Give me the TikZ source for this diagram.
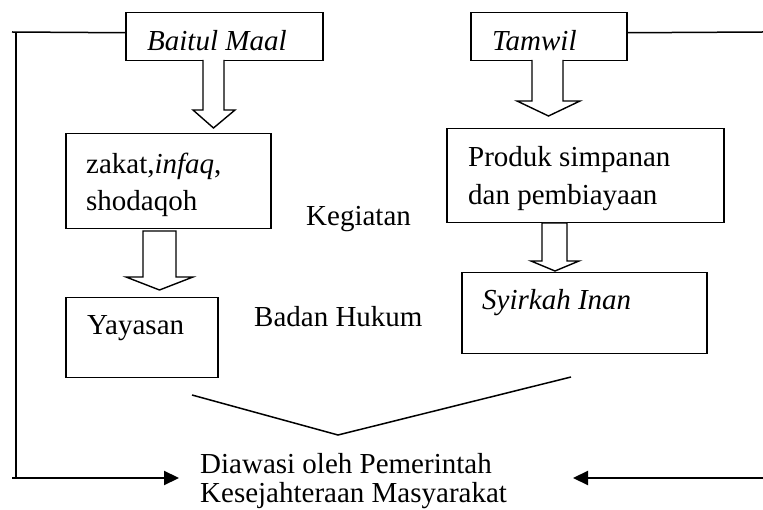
\documentclass[tikz,border=0pt]{standalone}
\usepackage{fontspec}
\setmainfont{Liberation Serif}
\usetikzlibrary{arrows.meta,calc}
\begin{document}
\begin{tikzpicture}[x=1pt,y=-1pt,
  box/.style={draw,line width=1.5pt,inner sep=0pt,anchor=north west},
  txt/.style={inner sep=0pt,anchor=base west,font=\fontsize{29}{33}\selectfont},
  ln/.style={line width=1.5pt},
  hollow/.style={draw,line width=1.4pt,fill=white,line join=miter},
  arr/.style={line width=2.2pt,-{Triangle[length=15pt,width=14pt]}}]
\useasboundingbox (0,0) rectangle (763,510);
% boxes
\node[box,minimum width=197pt,minimum height=48pt] (bm) at (125,12) {};
\node[box,minimum width=156pt,minimum height=48pt] (tw) at (470,12) {};
\node[box,minimum width=205pt,minimum height=95pt] (zk) at (65,133) {};
\node[box,minimum width=152pt,minimum height=80pt] (yy) at (65,297) {};
\node[box,minimum width=277pt,minimum height=94pt] (pr) at (446,128) {};
\node[box,minimum width=245pt,minimum height=81pt] (sy) at (461,272) {};
% texts
\node[txt] (tbm) at (147,51) {\itshape Baitul Maal};
\node[txt] (ttw) at (492,51) {\itshape Tamwil};
\node[txt] (tzk1) at (86,174) {zakat,\textit{infaq},};
\node[txt] (tzk2) at (86,211) {shodaqoh};
\node[txt] (tyy) at (87,335) {Yayasan};
\node[txt] (tkg) at (306,226) {Kegiatan};
\node[txt] (tbh) at (254,327) {Badan Hukum};
\node[txt] (tpr1) at (468,167) {Produk simpanan};
\node[txt] (tpr2) at (468,205) {dan pembiayaan};
\node[txt] (tsy) at (482,310) {\itshape Syirkah Inan};
\node[txt] (tdw) at (200,473) {Diawasi oleh Pemerintah};
\node[txt] (tks) at (200,502) {Kesejahteraan Masyarakat};
% hollow arrows
\draw[hollow] (203,60) -- (203,110) -- (193,110) -- (213.5,128) -- (235,110) -- (224,110) -- (224,60);
\draw[hollow] (143,231) -- (143,277) -- (126,277) -- (159.5,290) -- (193,277) -- (176,277) -- (176,231) -- cycle;
\draw[hollow] (532,60) -- (532,101) -- (517,101) -- (548.5,116) -- (580,101) -- (563,101) -- (563,60);
\draw[hollow] (542,223) -- (542,261) -- (531,261) -- (555,271) -- (579,261) -- (567,261) -- (567,223) -- cycle;
% converging lines
\coordinate (vl) at (192,395);
\coordinate (vm) at (338,435);
\coordinate (vr) at (571,377);
\draw[ln] (vl) -- (vm) -- (vr);
% side connectors
\coordinate (lc) at (16,32);
\coordinate (lb) at (16,478);
\coordinate (lstart) at (12,478);
\coordinate (ltip) at (179,478);
\coordinate (re) at (763,32);
\coordinate (rstart) at (763,478);
\coordinate (rtip) at (573,478);
\draw[ln] ([yshift=4pt]bm.west) -- (12,32);
\draw[ln] (lc) -- (lb);
\draw[arr] (lstart) -- (ltip);
\draw[ln] ([yshift=4pt]tw.east) -- (re);
\draw[arr] (rstart) -- (rtip);
\end{tikzpicture}
\end{document}
